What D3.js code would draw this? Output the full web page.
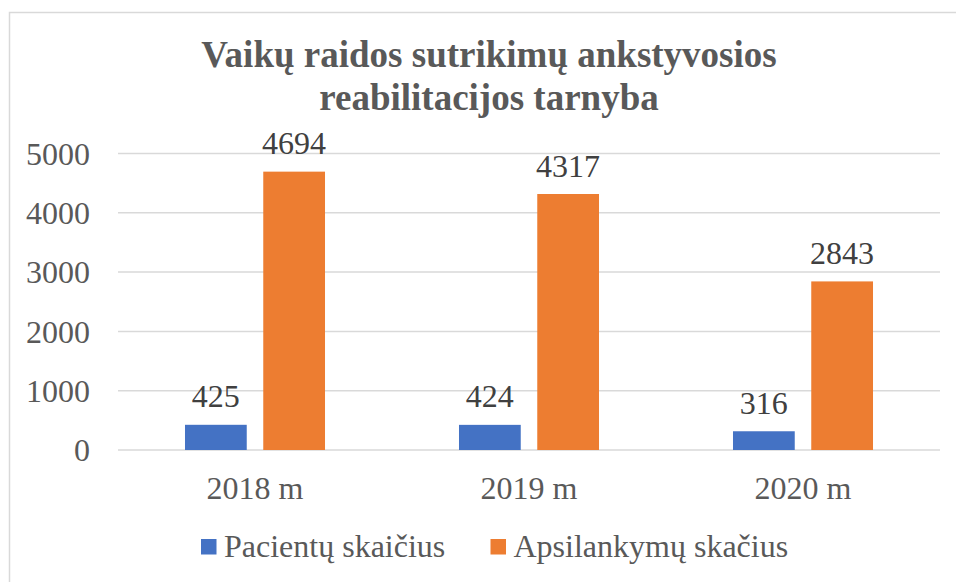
<!DOCTYPE html>
<html>
<head>
<meta charset="utf-8">
<script src="https://cdn.jsdelivr.net/npm/d3@7"></script>
<style>
  body { margin: 0; background: #fff; }
  svg { display: block; }
</style>
</head>
<body>
<svg id="chart" width="956" height="582"></svg>
<script>
const categories = ['2018 m', '2019 m', '2020 m'];
const seriesNames = ['Pacientų skaičius', 'Apsilankymų skačius'];
const pacientai = [425, 424, 316];
const apsilankymai = [4694, 4317, 2843];
const yTicks = [0, 1000, 2000, 3000, 4000, 5000];
const titleLines = ['Vaikų raidos sutrikimų ankstyvosios', 'reabilitacijos tarnyba'];

const colors = ['#4472C4', '#ED7D31'];
const textColor = '#595959';
const gridColor = '#d9d9d9';
const font = 'Liberation Serif';
const fontSize = 32;

const svg = d3.select('#chart');
const plot = { left: 118, right: 940, top: 153.5, bottom: 450 };

// outer frame (runs off the right and bottom edges)
svg.append('path')
  .attr('d', 'M9.5,960 V12.5 H960')
  .attr('fill', 'none')
  .attr('stroke', gridColor)
  .attr('stroke-width', 1.5);

svg.selectAll('.title')
  .data(titleLines)
  .enter()
  .append('text')
  .attr('class', 'title')
  .attr('x', 489)
  .attr('y', (d, i) => 67 + i * 43)
  .attr('text-anchor', 'middle')
  .attr('font-family', font)
  .attr('font-weight', 700)
  .attr('font-size', 37)
  .attr('fill', textColor)
  .text((d) => d);

const y = d3.scaleLinear().domain([0, 5000]).range([plot.bottom, plot.top]);
const x0 = d3.scaleBand()
  .domain(categories)
  .range([plot.left, plot.right])
  .paddingInner(0.489)
  .paddingOuter(0.2445);
const x1 = d3.scaleBand()
  .domain(seriesNames)
  .range([0, x0.bandwidth()])
  .paddingInner(0.211);

// gridlines
svg.append('g')
  .selectAll('line')
  .data(yTicks)
  .enter()
  .append('line')
  .attr('x1', plot.left)
  .attr('x2', plot.right)
  .attr('y1', (d) => y(d))
  .attr('y2', (d) => y(d))
  .attr('stroke', gridColor)
  .attr('stroke-width', 1.5);

// y axis labels
const yAxis = svg.append('g')
  .attr('transform', `translate(${plot.left}, 0)`)
  .call(d3.axisLeft(y).tickValues(yTicks).tickFormat(d3.format('d')).tickSize(0).tickPadding(28));
yAxis.select('.domain').remove();
yAxis.selectAll('text')
  .attr('font-family', font)
  .attr('font-size', fontSize)
  .attr('fill', textColor)
  .attr('dy', '0.34em');

// x axis labels
const xAxis = svg.append('g')
  .attr('transform', `translate(0, ${plot.bottom})`)
  .call(d3.axisBottom(x0).tickSize(0).tickPadding(26));
xAxis.select('.domain').remove();
xAxis.selectAll('text')
  .attr('font-family', font)
  .attr('font-size', fontSize)
  .attr('fill', textColor)
  .attr('dy', '0.71em');

const rows = categories.map((c, i) => ({
  category: c,
  values: [
    { series: seriesNames[0], value: pacientai[i], color: colors[0] },
    { series: seriesNames[1], value: apsilankymai[i], color: colors[1] },
  ],
}));

const groups = svg.selectAll('.group')
  .data(rows)
  .enter()
  .append('g')
  .attr('class', 'group')
  .attr('transform', (d) => `translate(${x0(d.category)}, 0)`);

groups.selectAll('rect')
  .data((d) => d.values)
  .enter()
  .append('rect')
  .attr('x', (d) => x1(d.series))
  .attr('width', x1.bandwidth())
  .attr('y', (d) => y(d.value))
  .attr('height', (d) => y(0) - y(d.value))
  .attr('fill', (d) => d.color);

groups.selectAll('.label')
  .data((d) => d.values)
  .enter()
  .append('text')
  .attr('class', 'label')
  .attr('x', (d) => x1(d.series) + x1.bandwidth() / 2)
  .attr('y', (d) => y(d.value) - 17.5)
  .attr('text-anchor', 'middle')
  .attr('font-family', font)
  .attr('font-size', fontSize)
  .attr('fill', '#404040')
  .text((d) => d.value);

// legend
const legendX = [201, 490.5];
const legend = svg.selectAll('.legend')
  .data(seriesNames)
  .enter()
  .append('g')
  .attr('class', 'legend')
  .attr('transform', (d, i) => `translate(${legendX[i]}, 539)`);
legend.append('rect')
  .attr('width', 15.5)
  .attr('height', 15.5)
  .attr('fill', (d, i) => colors[i]);
legend.append('text')
  .attr('x', 23)
  .attr('y', 18)
  .attr('font-family', font)
  .attr('font-size', fontSize)
  .attr('fill', textColor)
  .text((d) => d);
</script>
</body>
</html>
